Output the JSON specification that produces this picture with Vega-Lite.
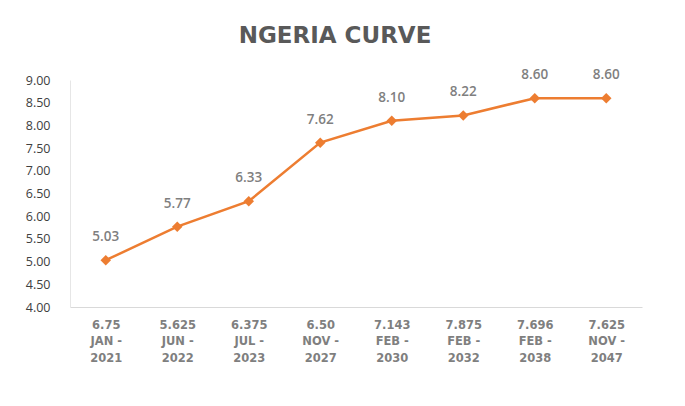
{
  "$schema": "https://vega.github.io/schema/vega-lite/v6.json",
  "autosize": "none",
  "padding": {"left": 70, "top": 80, "right": 43, "bottom": 99},
  "width": 572,
  "height": 227,
  "background": "white",
  "title": {
    "text": "NGERIA CURVE",
    "font": "DejaVu Sans",
    "fontSize": 23,
    "fontWeight": "bold",
    "color": "#595959",
    "anchor": "middle",
    "dx": -21,
    "offset": 20
  },
  "data": {
    "values": [
      {"bond": "6.75\nJAN -\n2021", "yield": 5.03},
      {"bond": "5.625\nJUN -\n2022", "yield": 5.77},
      {"bond": "6.375\nJUL -\n2023", "yield": 6.33},
      {"bond": "6.50\nNOV -\n2027", "yield": 7.62},
      {"bond": "7.143\nFEB -\n2030", "yield": 8.10},
      {"bond": "7.875\nFEB -\n2032", "yield": 8.22},
      {"bond": "7.696\nFEB -\n2038", "yield": 8.60},
      {"bond": "7.625\nNOV -\n2047", "yield": 8.60}
    ]
  },
  "encoding": {
    "x": {
      "field": "bond",
      "type": "nominal",
      "sort": null,
      "title": null,
      "axis": {
        "labelAngle": 0,
        "labelExpr": "split(datum.label, '\\n')",
        "labelFont": "DejaVu Sans",
        "labelFontSize": 11.5,
        "labelFontWeight": "bold",
        "labelColor": "#7f7f7f",
        "labelLineHeight": 16.5,
        "labelPadding": 12,
        "ticks": false,
        "domainColor": "#d9d9d9",
        "grid": false
      }
    },
    "y": {
      "field": "yield",
      "type": "quantitative",
      "title": null,
      "scale": {"domain": [4, 9], "nice": false, "zero": false},
      "axis": {
        "values": [4, 4.5, 5, 5.5, 6, 6.5, 7, 7.5, 8, 8.5, 9],
        "format": ".2f",
        "labelFont": "Open Sans",
        "labelFontSize": 12.5,
        "labelColor": "#404040",
        "labelPadding": 20,
        "ticks": false,
        "domainColor": "#e6e6e6",
        "grid": false
      }
    }
  },
  "layer": [
    {
      "mark": {"type": "line", "color": "#ED7D31", "strokeWidth": 2.5}
    },
    {
      "mark": {"type": "point", "shape": "diamond", "filled": true, "color": "#ED7D31", "opacity": 1, "size": 110}
    },
    {
      "mark": {"type": "text", "dy": -23, "font": "Open Sans", "fontSize": 13.5, "fontWeight": 600, "color": "#7f7f7f"},
      "encoding": {"text": {"field": "yield", "type": "quantitative", "format": ".2f"}}
    }
  ],
  "config": {
    "view": {"stroke": null}
  }
}
